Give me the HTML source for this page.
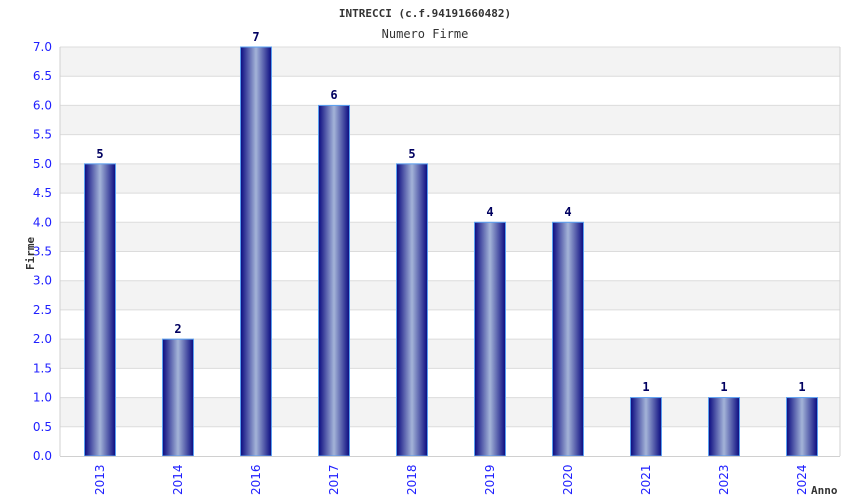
<!DOCTYPE html><html><head><style>body{margin:0;background:#fff}svg{display:block}
.t{font-family:"DejaVu Sans",sans-serif;font-size:12px;fill:#2020ff}
.v{font-family:"DejaVu Sans Mono",monospace;font-weight:bold;font-size:12px;fill:#000060}
.b{fill:url(#g);stroke:#5aa0f0;stroke-width:1}
</style></head><body>
<svg width="850" height="500" xmlns="http://www.w3.org/2000/svg">
<defs><linearGradient id="g" x1="0" x2="1" y1="0" y2="0">
<stop offset="0" stop-color="#0a0a80"/><stop offset="0.5" stop-color="#a4b4d8"/><stop offset="1" stop-color="#0a0a80"/></linearGradient></defs>
<rect width="850" height="500" fill="#fff"/>
<g fill="#f3f3f3">
<rect x="60" y="397.57" width="780" height="29.21"/>
<rect x="60" y="339.14" width="780" height="29.21"/>
<rect x="60" y="280.71" width="780" height="29.21"/>
<rect x="60" y="222.29" width="780" height="29.21"/>
<rect x="60" y="163.86" width="780" height="29.21"/>
<rect x="60" y="105.43" width="780" height="29.21"/>
<rect x="60" y="47" width="780" height="29.21"/>
</g>
<g stroke="#dcdcdc">
<line x1="60" x2="840" y1="426.79" y2="426.79"/><line x1="60" x2="840" y1="397.57" y2="397.57"/>
<line x1="60" x2="840" y1="368.36" y2="368.36"/><line x1="60" x2="840" y1="339.14" y2="339.14"/>
<line x1="60" x2="840" y1="309.93" y2="309.93"/><line x1="60" x2="840" y1="280.71" y2="280.71"/>
<line x1="60" x2="840" y1="251.5" y2="251.5"/><line x1="60" x2="840" y1="222.29" y2="222.29"/>
<line x1="60" x2="840" y1="193.07" y2="193.07"/><line x1="60" x2="840" y1="163.86" y2="163.86"/>
<line x1="60" x2="840" y1="134.64" y2="134.64"/><line x1="60" x2="840" y1="105.43" y2="105.43"/>
<line x1="60" x2="840" y1="76.21" y2="76.21"/><line x1="60" x2="840" y1="47" y2="47"/>
</g>
<g text-anchor="end">
<text class="t" x="52" y="460">0.0</text><text class="t" x="52" y="430.8">0.5</text>
<text class="t" x="52" y="401.6">1.0</text><text class="t" x="52" y="372.4">1.5</text>
<text class="t" x="52" y="343.1">2.0</text><text class="t" x="52" y="313.9">2.5</text>
<text class="t" x="52" y="284.7">3.0</text><text class="t" x="52" y="255.5">3.5</text>
<text class="t" x="52" y="226.3">4.0</text><text class="t" x="52" y="197.1">4.5</text>
<text class="t" x="52" y="167.9">5.0</text><text class="t" x="52" y="138.6">5.5</text>
<text class="t" x="52" y="109.4">6.0</text><text class="t" x="52" y="80.2">6.5</text>
<text class="t" x="52" y="51">7.0</text>
</g>
<rect class="b" x="84.5" y="163.86" width="31" height="292.14"/>
<rect class="b" x="162.5" y="339.14" width="31" height="116.86"/>
<rect class="b" x="240.5" y="47" width="31" height="409"/>
<rect class="b" x="318.5" y="105.43" width="31" height="350.57"/>
<rect class="b" x="396.5" y="163.86" width="31" height="292.14"/>
<rect class="b" x="474.5" y="222.29" width="31" height="233.71"/>
<rect class="b" x="552.5" y="222.29" width="31" height="233.71"/>
<rect class="b" x="630.5" y="397.57" width="31" height="58.43"/>
<rect class="b" x="708.5" y="397.57" width="31" height="58.43"/>
<rect class="b" x="786.5" y="397.57" width="31" height="58.43"/>
<g text-anchor="middle">
<text class="v" x="100" y="158">5</text><text class="v" x="178" y="333">2</text>
<text class="v" x="256" y="41">7</text><text class="v" x="334" y="99">6</text>
<text class="v" x="412" y="158">5</text><text class="v" x="490" y="216">4</text>
<text class="v" x="568" y="216">4</text><text class="v" x="646" y="391">1</text>
<text class="v" x="724" y="391">1</text><text class="v" x="802" y="391">1</text>
</g>
<text class="t" transform="translate(104,495) rotate(-90)">2013</text>
<text class="t" transform="translate(182,495) rotate(-90)">2014</text>
<text class="t" transform="translate(260,495) rotate(-90)">2016</text>
<text class="t" transform="translate(338,495) rotate(-90)">2017</text>
<text class="t" transform="translate(416,495) rotate(-90)">2018</text>
<text class="t" transform="translate(494,495) rotate(-90)">2019</text>
<text class="t" transform="translate(572,495) rotate(-90)">2020</text>
<text class="t" transform="translate(650,495) rotate(-90)">2021</text>
<text class="t" transform="translate(728,495) rotate(-90)">2023</text>
<text class="t" transform="translate(806,495) rotate(-90)">2024</text>
<line x1="60" x2="60" y1="47" y2="456" stroke="#d0d0d0"/>
<line x1="840" x2="840" y1="47" y2="456" stroke="#d0d0d0"/>
<line x1="60" x2="840" y1="456.5" y2="456.5" stroke="#d0d0d0"/>
<text x="425" y="17" text-anchor="middle" font-family="DejaVu Sans Mono, monospace" font-weight="bold" font-size="11" fill="#333">INTRECCI (c.f.94191660482)</text>
<text x="425" y="38" text-anchor="middle" font-family="DejaVu Sans Mono, monospace" font-size="12" fill="#333">Numero Firme</text>
<text transform="translate(34,270) rotate(-90)" font-family="DejaVu Sans Mono, monospace" font-weight="bold" font-size="11" fill="#333">Firme</text>
<text x="811" y="494" font-family="DejaVu Sans Mono, monospace" font-weight="bold" font-size="11" fill="#333">Anno</text>
</svg></body></html>
